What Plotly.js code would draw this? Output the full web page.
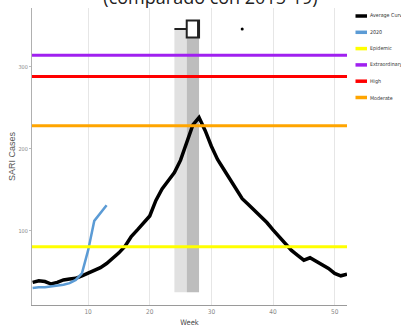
<!DOCTYPE html>
<html>
<head>
<meta charset="utf-8">
<script src="https://cdn.plot.ly/plotly-3.0.1.min.js"></script>
<style>html,body{margin:0;padding:0;background:#fff;}#chart{width:401px;height:327px;}</style>
</head>
<body>
<div id="chart"></div>
<script>
// ---- data ----
const weeks = [1,2,3,4,5,6,7,8,9,10,11,12,13,14,15,16,17,18,19,20,21,22,23,24,25,26,27,28,29,30,31,32,33,34,35,36,37,38,39,40,41,42,43,44,45,46,47,48,49,50,51,52];
const averageCurve = [37,39,38,35,37,40,41,42,45,48,51,55,60,66,73,81,93,101,110,118,137,151,161,171,186,207,229,238,222,203,187,175,163,151,139,132,125,117,110,101,93,84,76,70,64,67,63,58,54,48,45,47];
const weeks2020 = [1,2,3,4,5,6,7,8,9,10,11,12,13];
const cases2020 = [30,31,31,32,33,34,36,40,48,76,112,121,131];
const thresholdNames = ["Epidemic","Extraordinary","High","Moderate"];
const thresholdValues = [80.5, 314, 288, 228];
// peak-week summary (box at top + shaded bands)
const peakBoxStats = {lowerfence: 24, q1: 26, median: 28, q3: 28, upperfence: 28};
const peakOutlierWeek = [35];
const bandLightWeeks = [24, 26];
const bandDarkWeeks = [26, 28];
const bandLevels = [25, 346];
const seriesNames = ["Average Curve","2020"];
const yTicks = [100,200,300];
const xTicks = [10,20,30,40,50];

// ---- styles ----
const thresholdColors = {"Epidemic":"#ffff00","Extraordinary":"#a020f0","High":"#ff0000","Moderate":"#ffa500"};
const xRange = [0.9, 52];
const boxLevel = bandLevels[1];

const traces = [];
traces.push({x: weeks, y: averageCurve, type:'scatter', mode:'lines', name: seriesNames[0],
  line:{color:'#000000', width:3.5}, showlegend:false});
traces.push({x: weeks2020, y: cases2020, type:'scatter', mode:'lines', name: seriesNames[1],
  line:{color:'#5b9bd5', width:2.5}, showlegend:false});
thresholdNames.forEach((n,i)=>{
  traces.push({x: [xRange[0], xRange[1]], y:[thresholdValues[i], thresholdValues[i]], type:'scatter', mode:'lines',
    name:n, line:{color:thresholdColors[n], width:3}, showlegend:false});
});
traces.push({type:'box', orientation:'h', y:[boxLevel],
  lowerfence:[peakBoxStats.lowerfence], q1:[peakBoxStats.q1], median:[peakBoxStats.median],
  q3:[peakBoxStats.q3], upperfence:[peakBoxStats.upperfence],
  width: 21, whiskerwidth: 0, fillcolor:'#ffffff', line:{color:'#222222', width:2},
  boxpoints:false, showlegend:false, hoverinfo:'skip'});
traces.push({x: peakOutlierWeek, y: peakOutlierWeek.map(()=>boxLevel), type:'scatter', mode:'markers',
  marker:{color:'#000', size:3}, showlegend:false});

// custom legend (entries from series + threshold names)
const legendNames = [seriesNames[0], seriesNames[1]].concat(thresholdNames);
const legendColors = ['#000000','#5b9bd5'].concat(thresholdNames.map(n=>thresholdColors[n]));
const shapes = [
  {type:'rect', xref:'x', yref:'y', x0:bandLightWeeks[0], x1:bandLightWeeks[1], y0:bandLevels[0], y1:bandLevels[1],
    fillcolor:'#e1e1e1', line:{width:0}, layer:'below'},
  {type:'rect', xref:'x', yref:'y', x0:bandDarkWeeks[0], x1:bandDarkWeeks[1], y0:bandLevels[0], y1:bandLevels[1],
    fillcolor:'#bdbdbd', line:{width:0}, layer:'below'}
];
const annotations = [];
const plotL = 32, plotR = 347, plotT = 8, plotB = 305;
const px2x = p => (p - plotL)/(plotR - plotL);
const py2y = p => (plotB - p)/(plotB - plotT);
legendNames.forEach((n,i)=>{
  const py = 16 + i*16.3;
  shapes.push({type:'line', xref:'paper', yref:'paper', x0:px2x(355.5), x1:px2x(367), y0:py2y(py), y1:py2y(py),
    line:{color:legendColors[i], width:3.5}});
  annotations.push({xref:'paper', yref:'paper', x:px2x(368), y:py2y(py), text:n, showarrow:false,
    xanchor:'left', yanchor:'middle', font:{family:'DejaVu Sans Condensed, sans-serif', size:5.3, color:'#333'}});
});
// y axis title
annotations.push({xref:'paper', yref:'paper', x:px2x(11.5), y:0.5, text:'SARI Cases', textangle:-90, showarrow:false,
  xanchor:'center', yanchor:'middle', font:{family:'Liberation Sans, sans-serif', size:9, color:'#555'}});

const layout = {
  width:401, height:327,
  margin:{l:plotL, r:401-plotR, t:plotT, b:327-plotB, pad:0},
  paper_bgcolor:'#ffffff', plot_bgcolor:'#ffffff',
  showlegend:false,
  title:{text:'(comparado con 2015-19)', font:{family:'Open Sans, sans-serif', size:18, color:'#222'},
    x:0.525, xanchor:'center', xref:'container', yref:'container', y:1-3.5/327, yanchor:'bottom'},
  xaxis:{range:xRange, tickvals:xTicks, showgrid:true, gridcolor:'#e6e6e6', gridwidth:1,
    zeroline:false, showline:true, linecolor:'#9a9a9a', linewidth:1, ticks:'',
    tickfont:{family:'DejaVu Sans Condensed, sans-serif', size:6.5, color:'#888'},
    title:{text:'Week', font:{family:'DejaVu Sans Condensed, sans-serif', size:7.5, color:'#444'}, standoff:5}},
  yaxis:{range:[9.4, 371.6], tickvals:yTicks, showgrid:false, zeroline:false, showline:true,
    linecolor:'#b0b0b0', linewidth:1, ticks:'outside', ticklen:2, tickcolor:'#bbb',
    tickfont:{family:'DejaVu Sans Condensed, sans-serif', size:5.5, color:'#888'}},
  shapes: shapes,
  annotations: annotations
};
Plotly.newPlot('chart', traces, layout, {displayModeBar:false, staticPlot:true});
</script>
</body>
</html>
